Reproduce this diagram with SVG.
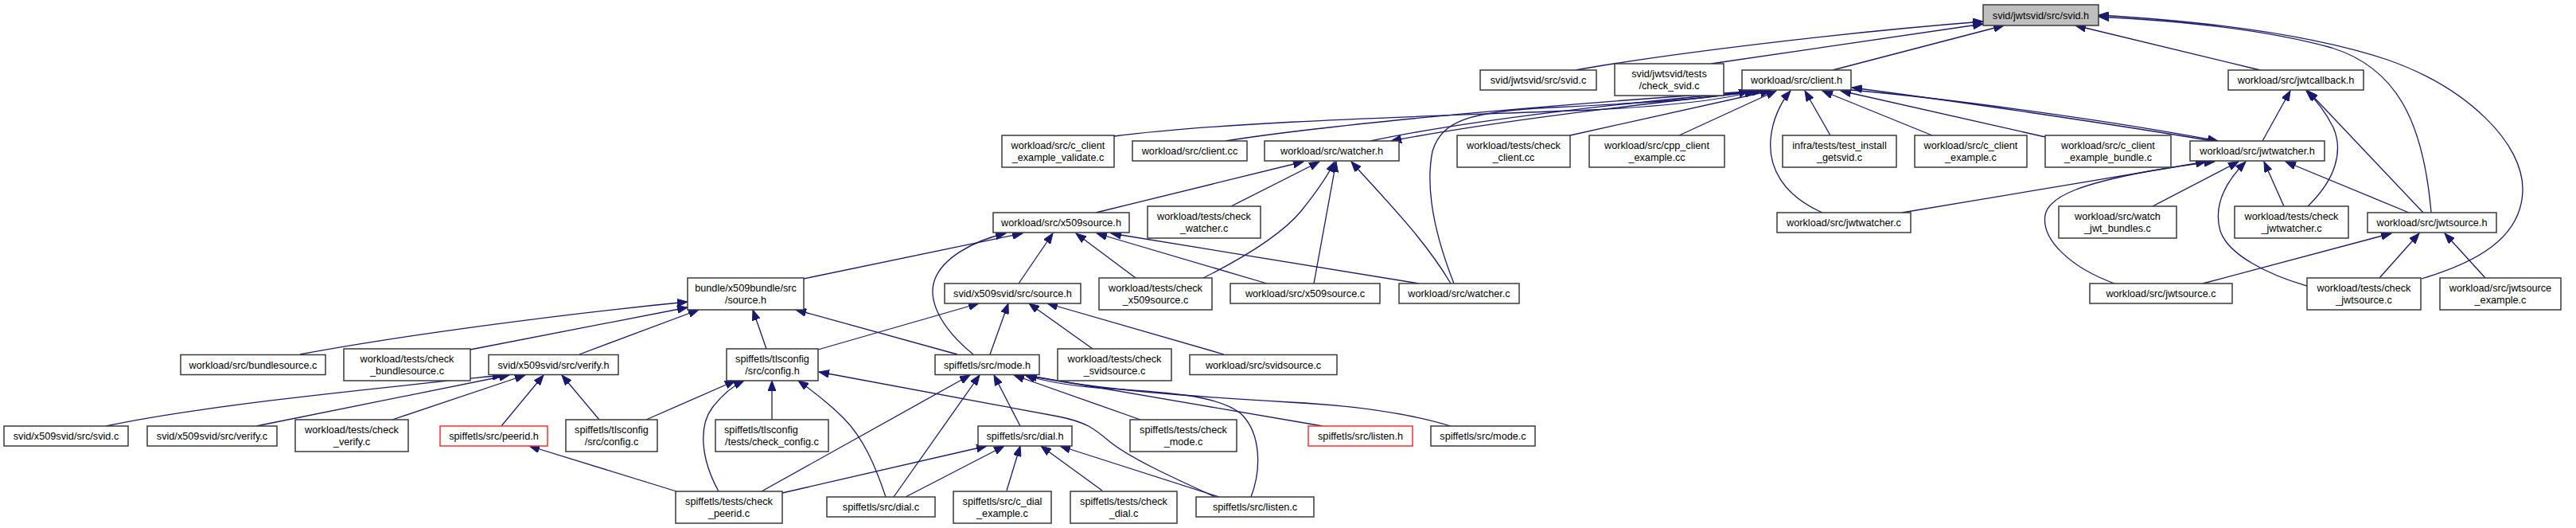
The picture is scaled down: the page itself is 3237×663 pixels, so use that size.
<svg xmlns="http://www.w3.org/2000/svg" width="3237" height="663" viewBox="0 0 3237 663">
<style>
.n rect{fill:#fff;stroke:#3a3a3a;stroke-width:1.5}
.main rect{fill:#bfbfbf}
.red rect{stroke:#ff3030}
text{font-family:"Liberation Sans",Arial,sans-serif;font-size:12.7px;text-anchor:middle;fill:#000}
#edges path{fill:none;stroke:#191970;stroke-width:1.3;marker-end:url(#ah)}
</style>
<defs>
<marker id="ah" markerUnits="userSpaceOnUse" markerWidth="14" markerHeight="10" refX="13" refY="5" orient="auto">
<path d="M0,0 L13,5 L0,10 z" fill="#191970" stroke="#191970" stroke-width="1"/>
</marker>
</defs>
<rect width="3237" height="663" fill="#fff"/>
<g id="edges">
<path d="M1980,88 C2080,70 2300,42 2492,27"/>
<path d="M2150,80 L2492,30"/>
<path d="M2303,88 L2518,32"/>
<path d="M2840,88 L2608,32"/>
<path d="M3055,267 C3045,150 3010,85 2930,60 C2850,38 2740,26 2637,21"/>
<path d="M3043,350 C3110,330 3168,300 3170,240 C3172,180 3100,110 3000,75 C2900,42 2760,26 2637,19"/>
<path d="M1400,171 C1550,152 1800,146 2000,138 C2100,133 2165,126 2205,114"/>
<path d="M1540,177 C1700,152 2000,128 2210,114"/>
<path d="M1722,177 C1850,150 2050,128 2215,114"/>
<path d="M2218,114 C2050,132 1880,152 1748,177"/>
<path d="M1973,170 L2225,114"/>
<path d="M2110,170 L2232,114"/>
<path d="M2300,170 L2268,114"/>
<path d="M2290,267 C2240,245 2222,210 2225,175 C2227,150 2238,128 2250,114"/>
<path d="M2428,170 L2290,114"/>
<path d="M2570,172 L2313,114"/>
<path d="M2780,177 C2650,155 2450,126 2327,110"/>
<path d="M2326,113 C2450,124 2650,151 2787,177"/>
<path d="M1827,356 C1805,300 1790,240 1800,190 C1812,150 1850,140 1950,135 C2050,130 2150,125 2198,114"/>
<path d="M2390,267 C2500,248 2650,224 2772,203"/>
<path d="M2657,356 C2600,335 2565,300 2570,270 C2575,245 2620,230 2700,215 C2730,210 2760,205 2783,203"/>
<path d="M2705,259 L2813,203"/>
<path d="M2899,359 C2850,345 2800,320 2790,290 C2780,255 2800,225 2822,203"/>
<path d="M2870,259 L2845,203"/>
<path d="M3027,267 L2872,203"/>
<path d="M2843,177 L2878,114"/>
<path d="M2900,259 C2935,225 2945,190 2932,160 C2922,140 2910,125 2898,114"/>
<path d="M3045,267 L2900,114"/>
<path d="M2768,356 L3005,293"/>
<path d="M2990,349 L3040,293"/>
<path d="M3123,349 L3072,293"/>
<path d="M1377,267 L1638,203"/>
<path d="M1547,259 L1658,203"/>
<path d="M1512,349 C1560,325 1610,295 1635,265 C1655,240 1668,222 1677,203"/>
<path d="M1651,356 L1679,203"/>
<path d="M1823,356 C1790,300 1740,250 1698,203"/>
<path d="M1010,350 L1285,293"/>
<path d="M1223,445 C1180,410 1165,375 1175,350 C1185,325 1220,303 1264,293"/>
<path d="M1280,356 L1323,293"/>
<path d="M1427,349 L1352,293"/>
<path d="M1592,356 L1378,293"/>
<path d="M1783,356 L1396,293"/>
<path d="M377,445 C500,422 700,395 864,379"/>
<path d="M591,439 L864,386"/>
<path d="M728,445 L878,389"/>
<path d="M963,438 L946,389"/>
<path d="M1203,445 L1000,389"/>
<path d="M133,535 C250,510 450,490 632,471"/>
<path d="M322,535 L640,471"/>
<path d="M493,527 L660,471"/>
<path d="M630,535 L683,471"/>
<path d="M753,527 L706,471"/>
<path d="M812,527 L924,478"/>
<path d="M903,617 C880,575 878,535 895,512 C908,495 920,485 935,478"/>
<path d="M970,527 L970,478"/>
<path d="M1113,624 C1100,585 1085,550 1060,525 C1040,505 1020,490 1003,478"/>
<path d="M1527,624 C1470,598 1420,575 1395,555 C1375,538 1365,530 1330,523 L1029,467"/>
<path d="M1028,439 L1230,381"/>
<path d="M1244,445 L1267,381"/>
<path d="M1373,438 L1293,381"/>
<path d="M1538,445 L1316,381"/>
<path d="M957,617 L1219,471"/>
<path d="M1123,624 L1231,471"/>
<path d="M1282,535 L1249,471"/>
<path d="M1433,527 L1274,471"/>
<path d="M1662,535 L1288,471"/>
<path d="M1823,535 C1780,522 1720,510 1620,505 C1500,498 1380,490 1290,471"/>
<path d="M1572,624 C1585,590 1585,545 1560,520 C1530,495 1460,492 1380,487 C1340,484 1310,478 1288,471"/>
<path d="M983,619 L1240,560"/>
<path d="M1138,624 L1262,560"/>
<path d="M1265,616 L1282,560"/>
<path d="M1385,616 L1308,560"/>
<path d="M1532,624 L1332,560"/>
<path d="M850,617 L665,560"/>
</g>
<g id="n1" class="n main"><rect x="2492" y="6" width="145" height="26"/><text x="2564.5" y="23.5">svid/jwtsvid/src/svid.h</text></g>
<g id="n2" class="n"><rect x="1860" y="88" width="146" height="25"/><text x="1933" y="105">svid/jwtsvid/src/svid.c</text></g>
<g id="n3" class="n"><rect x="2029" y="80" width="137" height="40"/><text x="2097.5" y="96.5">svid/jwtsvid/tests</text><text x="2097.5" y="111.5">/check_svid.c</text></g>
<g id="n4" class="n"><rect x="2189" y="88" width="137" height="25"/><text x="2257.5" y="105">workload/src/client.h</text></g>
<g id="n5" class="n"><rect x="2800" y="88" width="170" height="25"/><text x="2885" y="105">workload/src/jwtcallback.h</text></g>
<g id="n6" class="n"><rect x="1259" y="170" width="141" height="40"/><text x="1329.5" y="186.5">workload/src/c_client</text><text x="1329.5" y="201.5">_example_validate.c</text></g>
<g id="n7" class="n"><rect x="1423" y="177" width="144" height="25"/><text x="1495" y="194">workload/src/client.cc</text></g>
<g id="n8" class="n"><rect x="1589" y="177" width="169" height="25"/><text x="1673.5" y="194">workload/src/watcher.h</text></g>
<g id="n9" class="n"><rect x="1831" y="170" width="142" height="40"/><text x="1902" y="186.5">workload/tests/check</text><text x="1902" y="201.5">_client.cc</text></g>
<g id="n10" class="n"><rect x="1997" y="170" width="170" height="40"/><text x="2082" y="186.5">workload/src/cpp_client</text><text x="2082" y="201.5">_example.cc</text></g>
<g id="n11" class="n"><rect x="2240" y="170" width="143" height="40"/><text x="2311.5" y="186.5">infra/tests/test_install</text><text x="2311.5" y="201.5">_getsvid.c</text></g>
<g id="n12" class="n"><rect x="2406" y="170" width="141" height="40"/><text x="2476.5" y="186.5">workload/src/c_client</text><text x="2476.5" y="201.5">_example.c</text></g>
<g id="n13" class="n"><rect x="2570" y="170" width="158" height="40"/><text x="2649" y="186.5">workload/src/c_client</text><text x="2649" y="201.5">_example_bundle.c</text></g>
<g id="n14" class="n"><rect x="2752" y="177" width="169" height="25"/><text x="2836.5" y="194">workload/src/jwtwatcher.h</text></g>
<g id="n15" class="n"><rect x="1248" y="267" width="171" height="25"/><text x="1333.5" y="284">workload/src/x509source.h</text></g>
<g id="n16" class="n"><rect x="1442" y="259" width="142" height="40"/><text x="1513" y="275.5">workload/tests/check</text><text x="1513" y="290.5">_watcher.c</text></g>
<g id="n17" class="n"><rect x="2233" y="267" width="168" height="25"/><text x="2317" y="284">workload/src/jwtwatcher.c</text></g>
<g id="n18" class="n"><rect x="2587" y="259" width="148" height="40"/><text x="2661" y="275.5">workload/src/watch</text><text x="2661" y="290.5">_jwt_bundles.c</text></g>
<g id="n19" class="n"><rect x="2808" y="259" width="143" height="40"/><text x="2879.5" y="275.5">workload/tests/check</text><text x="2879.5" y="290.5">_jwtwatcher.c</text></g>
<g id="n20" class="n"><rect x="2975" y="267" width="162" height="25"/><text x="3056" y="284">workload/src/jwtsource.h</text></g>
<g id="n21" class="n"><rect x="864" y="349" width="146" height="40"/><text x="937" y="365.5">bundle/x509bundle/src</text><text x="937" y="380.5">/source.h</text></g>
<g id="n22" class="n"><rect x="1187" y="356" width="171" height="25"/><text x="1272.5" y="373">svid/x509svid/src/source.h</text></g>
<g id="n23" class="n"><rect x="1381" y="349" width="142" height="40"/><text x="1452" y="365.5">workload/tests/check</text><text x="1452" y="380.5">_x509source.c</text></g>
<g id="n24" class="n"><rect x="1546" y="356" width="188" height="25"/><text x="1640" y="373">workload/src/x509source.c</text></g>
<g id="n25" class="n"><rect x="1758" y="356" width="151" height="25"/><text x="1833.5" y="373">workload/src/watcher.c</text></g>
<g id="n26" class="n"><rect x="2626" y="356" width="179" height="25"/><text x="2715.5" y="373">workload/src/jwtsource.c</text></g>
<g id="n27" class="n"><rect x="2899" y="349" width="143" height="40"/><text x="2970.5" y="365.5">workload/tests/check</text><text x="2970.5" y="380.5">_jwtsource.c</text></g>
<g id="n28" class="n"><rect x="3066" y="349" width="152" height="40"/><text x="3142" y="365.5">workload/src/jwtsource</text><text x="3142" y="380.5">_example.c</text></g>
<g id="n29" class="n"><rect x="227" y="445.5" width="182" height="25"/><text x="318" y="462.5">workload/src/bundlesource.c</text></g>
<g id="n30" class="n"><rect x="432" y="438" width="159" height="40"/><text x="511.5" y="454.5">workload/tests/check</text><text x="511.5" y="469.5">_bundlesource.c</text></g>
<g id="n31" class="n"><rect x="614" y="445.5" width="163" height="25"/><text x="695.5" y="462.5">svid/x509svid/src/verify.h</text></g>
<g id="n32" class="n"><rect x="913" y="438" width="115" height="40"/><text x="970.5" y="454.5">spiffetls/tlsconfig</text><text x="970.5" y="469.5">/src/config.h</text></g>
<g id="n33" class="n"><rect x="1175" y="445.5" width="131" height="25"/><text x="1240.5" y="462.5">spiffetls/src/mode.h</text></g>
<g id="n34" class="n"><rect x="1329" y="438" width="143" height="40"/><text x="1400.5" y="454.5">workload/tests/check</text><text x="1400.5" y="469.5">_svidsource.c</text></g>
<g id="n35" class="n"><rect x="1495" y="445.5" width="185" height="25"/><text x="1587.5" y="462.5">workload/src/svidsource.c</text></g>
<g id="n36" class="n"><rect x="5" y="535" width="156" height="25"/><text x="83" y="552">svid/x509svid/src/svid.c</text></g>
<g id="n37" class="n"><rect x="185" y="535" width="163" height="25"/><text x="266.5" y="552">svid/x509svid/src/verify.c</text></g>
<g id="n38" class="n"><rect x="371" y="527" width="142" height="40"/><text x="442" y="543.5">workload/tests/check</text><text x="442" y="558.5">_verify.c</text></g>
<g id="n39" class="n red"><rect x="553" y="535" width="135" height="25"/><text x="620.5" y="552">spiffetls/src/peerid.h</text></g>
<g id="n40" class="n"><rect x="711" y="527" width="115" height="40"/><text x="768.5" y="543.5">spiffetls/tlsconfig</text><text x="768.5" y="558.5">/src/config.c</text></g>
<g id="n41" class="n"><rect x="899" y="527" width="142" height="40"/><text x="910" y="543.5" style="text-anchor:start">spiffetls/tlsconfig</text><text x="970" y="558.5">/tests/check_config.c</text></g>
<g id="n42" class="n"><rect x="1229" y="535" width="118" height="25"/><text x="1288" y="552">spiffetls/src/dial.h</text></g>
<g id="n43" class="n"><rect x="1420" y="527" width="134" height="40"/><text x="1487" y="543.5">spiffetls/tests/check</text><text x="1487" y="558.5">_mode.c</text></g>
<g id="n44" class="n red"><rect x="1644" y="535" width="131" height="25"/><text x="1709.5" y="552">spiffetls/src/listen.h</text></g>
<g id="n45" class="n"><rect x="1798" y="535" width="131" height="25"/><text x="1863.5" y="552">spiffetls/src/mode.c</text></g>
<g id="n46" class="n"><rect x="849" y="617" width="134" height="40"/><text x="916" y="633.5">spiffetls/tests/check</text><text x="916" y="648.5">_peerid.c</text></g>
<g id="n47" class="n"><rect x="1039" y="624" width="136" height="25"/><text x="1107" y="641">spiffetls/src/dial.c</text></g>
<g id="n48" class="n"><rect x="1198" y="617" width="123" height="40"/><text x="1259.5" y="633.5">spiffetls/src/c_dial</text><text x="1259.5" y="648.5">_example.c</text></g>
<g id="n49" class="n"><rect x="1345" y="617" width="134" height="40"/><text x="1412" y="633.5">spiffetls/tests/check</text><text x="1412" y="648.5">_dial.c</text></g>
<g id="n50" class="n"><rect x="1503" y="624" width="148" height="25"/><text x="1577" y="641">spiffetls/src/listen.c</text></g>
</svg>
